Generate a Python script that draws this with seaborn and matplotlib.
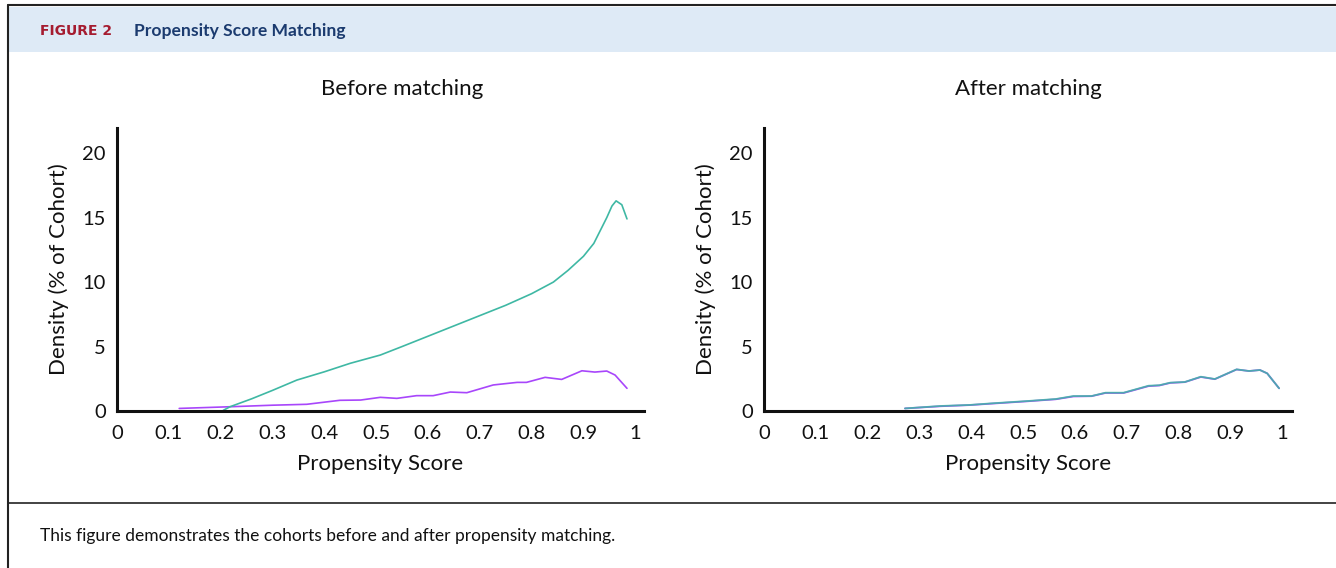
import matplotlib
matplotlib.use("Agg")
import matplotlib.pyplot as plt
import pandas as pd
import seaborn as sns
from matplotlib.patches import Rectangle
from matplotlib.lines import Line2D

# Data (propensity score vs density, % of cohort)
before_control_x = [0.205, 0.218, 0.26, 0.30, 0.347, 0.40, 0.45, 0.508, 0.55, 0.60, 0.65, 0.70,
                    0.75, 0.80, 0.842, 0.87, 0.90, 0.92, 0.945, 0.955, 0.963, 0.974, 0.984]
before_control_y = [0.05, 0.33, 0.95, 1.6, 2.4, 3.04, 3.7, 4.34, 5.0, 5.8, 6.6, 7.4,
                    8.2, 9.1, 10.0, 10.9, 12.0, 13.0, 15.0, 15.9, 16.3, 16.0, 14.9]

before_treated_x = [0.12, 0.218, 0.30, 0.366, 0.43, 0.47, 0.508, 0.54, 0.578, 0.61, 0.643, 0.675,
                    0.726, 0.772, 0.79, 0.826, 0.858, 0.897, 0.922, 0.945, 0.961, 0.984]
before_treated_y = [0.2, 0.33, 0.45, 0.52, 0.83, 0.85, 1.06, 0.98, 1.19, 1.19, 1.47, 1.42,
                    2.02, 2.22, 2.22, 2.61, 2.45, 3.12, 3.02, 3.1, 2.79, 1.76]

after_x = [0.272, 0.341, 0.397, 0.438, 0.507, 0.563, 0.597, 0.632, 0.659, 0.694, 0.742,
           0.763, 0.784, 0.812, 0.843, 0.87, 0.912, 0.936, 0.957, 0.971, 0.994]
after_control_y = [0.2, 0.39, 0.47, 0.59, 0.77, 0.93, 1.16, 1.16, 1.42, 1.42, 1.96,
                   2.0, 2.2, 2.25, 2.66, 2.48, 3.23, 3.1, 3.18, 2.92, 1.76]
after_treated_y = [0.2, 0.37, 0.46, 0.57, 0.75, 0.91, 1.13, 1.15, 1.40, 1.40, 1.93,
                   1.98, 2.18, 2.24, 2.64, 2.47, 3.22, 3.1, 3.18, 2.92, 1.76]

x_ticks = [0, 0.1, 0.2, 0.3, 0.4, 0.5, 0.6, 0.7, 0.8, 0.9, 1.0]
x_tick_labels = ["0", "0.1", "0.2", "0.3", "0.4", "0.5", "0.6", "0.7", "0.8", "0.9", "1"]
y_ticks = [0, 5, 10, 15, 20]

TEAL = "#3fb8a4"
PURPLE = "#a846fb"

sns.set_style("white")
plt.rcParams["font.family"] = ["Lato", "DejaVu Sans"]

fig = plt.figure(figsize=(13.36, 5.68), dpi=100)

# header band + frame lines
fig.add_artist(Rectangle((0.006, 0.9085), 0.994, 0.079, transform=fig.transFigure,
                         facecolor="#deeaf6", edgecolor="none"))
fig.add_artist(Line2D([0.006, 1.0], [0.9905, 0.9905], transform=fig.transFigure, color="#222222", lw=1.5))
fig.add_artist(Line2D([0.006, 0.006], [0.0, 0.9905], transform=fig.transFigure, color="#222222", lw=1.5))
fig.add_artist(Line2D([0.006, 1.0], [0.1144, 0.1144], transform=fig.transFigure, color="#222222", lw=1.2))
fig.text(0.030, 0.9454, "FIGURE 2", color="#a51c30", fontsize=10, fontweight="bold", va="center",
         family="DejaVu Sans")
fig.text(0.1005, 0.9454, "Propensity Score Matching", color="#1b3b6f", fontsize=12.6,
         fontweight="bold", va="center")
fig.text(0.030, 0.0563, "This figure demonstrates the cohorts before and after propensity matching.",
         color="#111111", fontsize=12.5, va="center")

ax1 = fig.add_axes([0.0876, 0.2764, 0.3945, 0.498])
ax2 = fig.add_axes([0.5719, 0.2764, 0.3952, 0.498])

df_before = pd.concat([
    pd.DataFrame({"score": before_treated_x, "density": before_treated_y, "group": "Treated"}),
    pd.DataFrame({"score": before_control_x, "density": before_control_y, "group": "Control"}),
])
df_after = pd.concat([
    pd.DataFrame({"score": after_x, "density": after_treated_y, "group": "Treated"}),
    pd.DataFrame({"score": after_x, "density": after_control_y, "group": "Control"}),
])

palette = {"Treated": PURPLE, "Control": TEAL}
sns.lineplot(data=df_before, x="score", y="density", hue="group", palette=palette,
             ax=ax1, legend=False, lw=1.2, sort=True)
sns.lineplot(data=df_after, x="score", y="density", hue="group", palette=palette,
             ax=ax2, legend=False, lw=1.3, sort=True)
ax2.lines[-1].set_alpha(0.85)

for ax, title, xmax in [(ax1, "Before matching", 1.017), (ax2, "After matching", 1.019)]:
    ax.set_xlim(0, xmax)
    ax.set_ylim(0, 21.94)
    ax.set_xticks(x_ticks)
    ax.set_xticklabels(x_tick_labels)
    ax.set_yticks(y_ticks)
    ax.tick_params(axis="both", length=0, labelsize=14.5, colors="#111111")
    ax.tick_params(axis="x", pad=10)
    ax.tick_params(axis="y", pad=8)
    for s in ["top", "right"]:
        ax.spines[s].set_visible(False)
    for s in ["left", "bottom"]:
        ax.spines[s].set_linewidth(2.2)
        ax.spines[s].set_color("#111111")
    ax.set_xlabel("Propensity Score", fontsize=16, labelpad=9, color="#111111")
    ax.set_ylabel("Density (% of Cohort)", fontsize=16, labelpad=10, color="#111111")
    ax.set_title(title, fontsize=16, pad=24, color="#111111")

ax1.title.set_position((0.54, 1.0))

fig.savefig("out.png", dpi=100)
